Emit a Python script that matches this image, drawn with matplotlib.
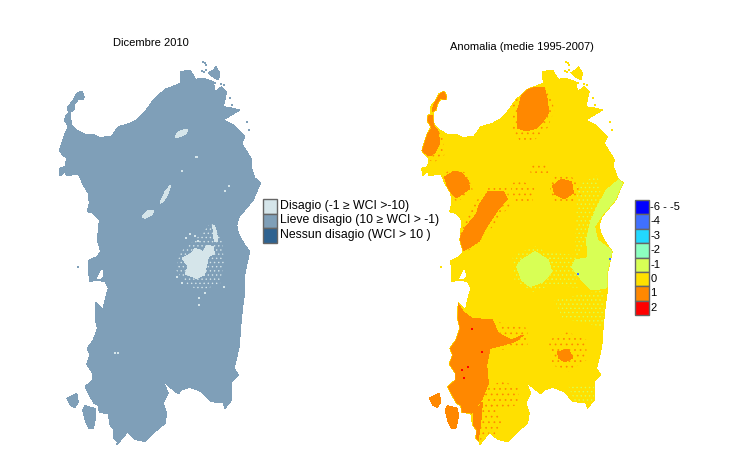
import numpy as np
import matplotlib.pyplot as plt
from matplotlib.patches import Polygon, Rectangle

plt.rcParams['font.family'] = ['Liberation Sans', 'DejaVu Sans']
plt.rcParams['hatch.linewidth'] = 0.5

# Coastline (left map, pixel-like map units)
coast_x = [81.7,84.3,83.3,78.3,75,74,70.7,70.7,71.7,76.7,85,93.3,100,111.7,118.3,130,137.3,145,153.3,165,180.7,180,190,195.7,203.3,213.3,215,221.7,226.7,223.3,232,240,223.3,233.3,245,241.7,250,251.7,251,255,260.7,256.7,253.3,245,239.3,236.7,238.3,241.7,245,250,249.3,245,245,242.7,240.7,239.3,234,238.3,231.7,231.7,225,223.3,210.7,201.7,190,181.7,178.3,169.3,163.3,168.3,163.3,166.7,165,153.3,145,135,127.3,118.3,113.3,114,110,108.3,99.3,98.3,94,89.3,85,92.7,92.7,86.7,90,87.3,93.3,97.3,95,95.7,101.7,108.3,103.3,105,108.3,105,96.7,89.3,88.3,96.7,100.7,97.3,99.3,93.3,87.3,89.3,88.3,83.3,78.3,66.7,65,60,59.3,65,66.7,62.7,59.3,62.7,65,68.3,64.7,65.3,68.3,67.7,73.3,76]
coast_y = [91,96.7,100,99.3,104,110,111.7,118.3,125,130,134.3,134.3,137.7,136,126.7,123.3,119.3,111.7,100,89.3,83.3,71.7,70,79.3,78.3,81.7,91.7,86.7,91.7,106.7,108,110,120,125,136.7,143.3,156.7,160,166.7,178,183,191.7,200,210,216.7,225,233.3,240,245,251.7,253.3,273.3,290,306.7,326.7,346.7,368.3,375,381.7,400,408.3,402.7,401.7,391.7,387.3,390,394,386.7,381.7,393.3,403.3,413.3,423.3,433.3,441.7,439.3,432.3,443.3,438.3,430,425,413.3,412.7,405.7,403.3,395,386.7,380,373.3,364,355,348.3,340,328.3,318.3,302.3,308.3,314,308.3,300,288.3,281.7,280,281.7,260.7,256.7,251.7,240,220,213.3,211.7,203.3,193.3,185,174,175.7,171.7,176,168.3,166.7,158.3,155,150.7,140,133.3,126.7,120.7,116,113.3,107.3,100,94]

# Islands and the lagoon near Oristano
maddalena_x = [208.3,213.3,216,220,218.3,212]
maddalena_y = [72.7,70,66.7,73.3,80,76.3]
sanpietro_x = [66.7,76.7,78.3,75,70]
sanpietro_y = [398.3,393.3,401.7,407.7,405]
santantioco_x = [82.7,85,95,96,93.3,89.3,85]
santantioco_y = [410,405.7,408.3,416.7,428.3,429,420]
lagoon_x = [98,102,103,100,97]
lagoon_y = [277,270,276,279,279]
islet_x = [203,205,206,202,204,206,215,221,224,230,232,247,249,236,117,78]
islet_y = [62,63,65,71,72,70,83,84,85,98,105,122,130,110,444,267]

# Disagio patches on the left map
disagio_patches = [
    ([182.3,191.7,195,203.3,206.7,213.3,214.3,208.3,206.7,204.3,196.7,188.3,185,188.3],
     [258.3,253.3,248.3,251.7,245,246.7,253.3,256.7,265,275,278.3,275,275,266.7]),
    ([214.3,216.7,217.7,214.3,212.7], [225,233.3,241.7,241.7,225]),
    ([175,178.3,187.3,186.7,178.3], [137.3,131.7,129,133.3,137.3]),
    ([160,165,170.7,168.3,163.3], [203.3,191.7,185,193.3,201.7]),
    ([142.3,148.3,154,151.7,145], [216.7,210,210,215,218.3]),
]
disagio_halo_x = [180,195,212,222,224,220,214,200,186,176]
disagio_halo_y = [252,240,222,240,262,284,286,291,284,270]
disagio_x = [196,197,181.7,225,229,199,205,224,199,115,118,198,195,190,186,177,182]
disagio_y = [156.7,156.7,170.7,191,186,298,293,287,305,352.7,353,241,236,234,238,277,283]

# Anomaly areas on the right map
orange_patches = [
    ([160,170,182,185,186,180,174,164,155,155,158], [90,87,88,100,113,122,128,131,128,110,100]),
    ([80.8,84.8,82.5,77.5,74.2,73.2,69.8,70.8,75.8], [91,96.7,100,98.3,105,110,112,106,96.7]),
    ([63,70.8,71.8,76,77,72,67.5,57,62,69.2,63], [116,115,126.7,131.7,144,153,156,150.7,138.3,128.3,121.7]),
    ([82,92,99,106,107,101,94,86], [177,171,173,181,189,193,198,190]),
    ([116,126,141,145,136,130,122,117,108,100,96,104,114],
     [206,191,191,199,209,218,230,241,247,251,240,226,214]),
    ([190,199,209,211,202,192], [186,179,182,193,199,194]),
    ([93,100.8,109.2,129.8,135.8,149.2,160.8,152.5,137.5,127.5,124.2,125.8,119.2,109.2,99.2,95.8,83,90,84,85,93,93],
     [300,311.7,318.3,320,333.3,340,335,341.7,346,348.3,365,383.3,400,413.3,413.3,406.7,386.7,380,365,346.7,336.7,320]),
    ([110.8,120,118,115,112], [413.3,402,425,445,436.7]),
    ([195,206,210,202,196], [352,349,358,362,358]),
]
speckle_orange = [
    ([150,165,186,192,185,172,158,150], [100,88,88,110,128,140,142,130]),
    ([60,80,82,72,58], [130,130,155,162,158]),
    ([78,92,108,110,95,85], [175,168,175,190,202,195]),
    ([110,125,145,148,135,120,100,92], [205,188,188,205,220,240,255,245]),
    ([148,160,172,170,150], [183,181,188,203,203]),
    ([167,185,186,168], [164,164,173,173]),
    ([186,200,215,218,205,190], [180,173,180,195,205,200]),
    ([186,205,224,224,205,190], [340,332,340,360,372,365]),
    ([122,140,157,155,135,122], [388,381,388,405,410,408]),
    ([116,130,140,132,118], [408,405,420,435,442]),
    ([135,165,165,140], [322,328,345,350]),
]
lime_patches = [
    ([258.2,262.5,254.2,240.8,232,235,252.5,254,226,224,228,235,244],
     [178.3,187,205,213.3,226.7,240,253.3,262,262,240,222,206,190]),
    ([159.2,172.5,185.8,189.2,180.8,167.5,159.2,154.2], [260,251.7,260,271.7,281.7,286.7,280,266.7]),
    ([212.5,252,250,242.5,229.2,219.2,209.2], [260,253.3,280,288.3,290,280,266.7]),
]
speckle_lime = [
    ([185,212,215,190], [252,255,288,285]),
    ([192,240,244,200], [300,290,328,318]),
    ([215,235,240,225,212], [185,175,205,240,262]),
    ([150,172,192,190,170,152], [256,246,256,285,292,280]),
    ([205,240,240,212], [385,385,402,402]),
]
blue_x = [247.5,215.8]
blue_y = [259.3,274.3]
red_x = [109.8,119.8,99.8,105.8,101.8]
red_y = [329.3,351.7,370,367.3,378.3]

# Legends
wci_colors = ['#d5e5ea', '#7f9fb8', '#2e6290']
wci_labels = ['Disagio (-1 \u2265 WCI >-10)', 'Lieve disagio (10 \u2265 WCI > -1)', 'Nessun disagio (WCI > 10 )']
anom_colors = ['#0000ff', '#4070ff', '#22d8ff', '#8cffc0', '#d8ff55', '#ffe000', '#ff8800', '#ff0000']
anom_labels = ['-6 - -5', '-4', '-3', '-2', '-1', '0', '1', '2']

MAP_COLOR = wci_colors[1]
YELLOW = anom_colors[5]
ORANGE = anom_colors[6]
LIME = anom_colors[4]

fig = plt.figure(figsize=(7.3, 4.5), dpi=100)
ax1 = fig.add_axes([0, 0, 1, 1])
ax1.set_xlim(0, 730)
ax1.set_ylim(450, 0)
ax1.axis('off')
# the right map is the same grid, shifted sideways
ax2 = fig.add_axes([0, 0, 1, 1])
ax2.set_xlim(-362.5, 367.5)
ax2.set_ylim(450, 0)
ax2.axis('off')
ax2.patch.set_alpha(0)


def fill(ax, xs, ys, color, clip=None):
    p = Polygon(np.column_stack([xs, ys]), closed=True, facecolor=color, edgecolor='none',
                antialiased=False)
    ax.add_patch(p)
    if clip is not None:
        p.set_clip_path(clip)
    return p


def speckle(ax, xs, ys, color, clip, hatch='...'):
    p = Polygon(np.column_stack([xs, ys]), closed=True, facecolor='none', edgecolor=color,
                linewidth=0, hatch=hatch)
    ax.add_patch(p)
    p.set_clip_path(clip)


# left map
base1 = fill(ax1, coast_x, coast_y, MAP_COLOR)
fill(ax1, maddalena_x, maddalena_y, MAP_COLOR)
fill(ax1, sanpietro_x, sanpietro_y, MAP_COLOR)
fill(ax1, santantioco_x, santantioco_y, MAP_COLOR)
ax1.scatter(islet_x, islet_y, s=2.5, marker='s', color=MAP_COLOR, linewidths=0)
speckle(ax1, disagio_halo_x, disagio_halo_y, wci_colors[0], base1, '....')
for xs, ys in disagio_patches:
    fill(ax1, xs, ys, wci_colors[0])
ax1.scatter(disagio_x, disagio_y, s=2, marker='s', color=wci_colors[0], linewidths=0)
fill(ax1, lagoon_x, lagoon_y, 'white')

# right map
base2 = fill(ax2, coast_x, coast_y, YELLOW)
fill(ax2, maddalena_x, maddalena_y, YELLOW)
fill(ax2, sanpietro_x, sanpietro_y, ORANGE)
fill(ax2, santantioco_x, santantioco_y, ORANGE)
ax2.scatter(islet_x, islet_y, s=2.5, marker='s', color=YELLOW, linewidths=0)
for xs, ys in speckle_lime:
    speckle(ax2, xs, ys, LIME, base2, '....')
for xs, ys in lime_patches:
    fill(ax2, xs, ys, LIME, clip=base2)
for xs, ys in speckle_orange:
    speckle(ax2, xs, ys, ORANGE, base2)
for xs, ys in orange_patches:
    fill(ax2, xs, ys, ORANGE, clip=base2)
ax2.scatter(blue_x, blue_y, s=2.5, marker='s', color=anom_colors[1], linewidths=0)
ax2.scatter(red_x, red_y, s=2, marker='s', color=anom_colors[7], linewidths=0)
fill(ax2, lagoon_x, lagoon_y, 'white')

# titles
ax1.text(151, 43, 'Dicembre 2010', ha='center', va='center', fontsize=8)
ax1.text(522, 47, 'Anomalia (medie 1995-2007)', ha='center', va='center', fontsize=8)

# WCI legend
for i, (c, lab) in enumerate(zip(wci_colors, wci_labels)):
    ax1.add_patch(Rectangle((262.5, 199 + i * 14.5), 14, 14.5, facecolor=c, edgecolor='#666666', linewidth=1))
    ax1.text(279.5, 206 + i * 14.5, lab, ha='left', va='center', fontsize=8.8)

# anomaly legend
for i, (c, lab) in enumerate(zip(anom_colors, anom_labels)):
    ax1.add_patch(Rectangle((634.5, 200 + i * 14.4), 14, 14.4, facecolor=c, edgecolor='#666666', linewidth=1))
    ax1.text(650.5, 207 + i * 14.4, lab, ha='left', va='center', fontsize=8)

fig.savefig('out.png', dpi=100)
